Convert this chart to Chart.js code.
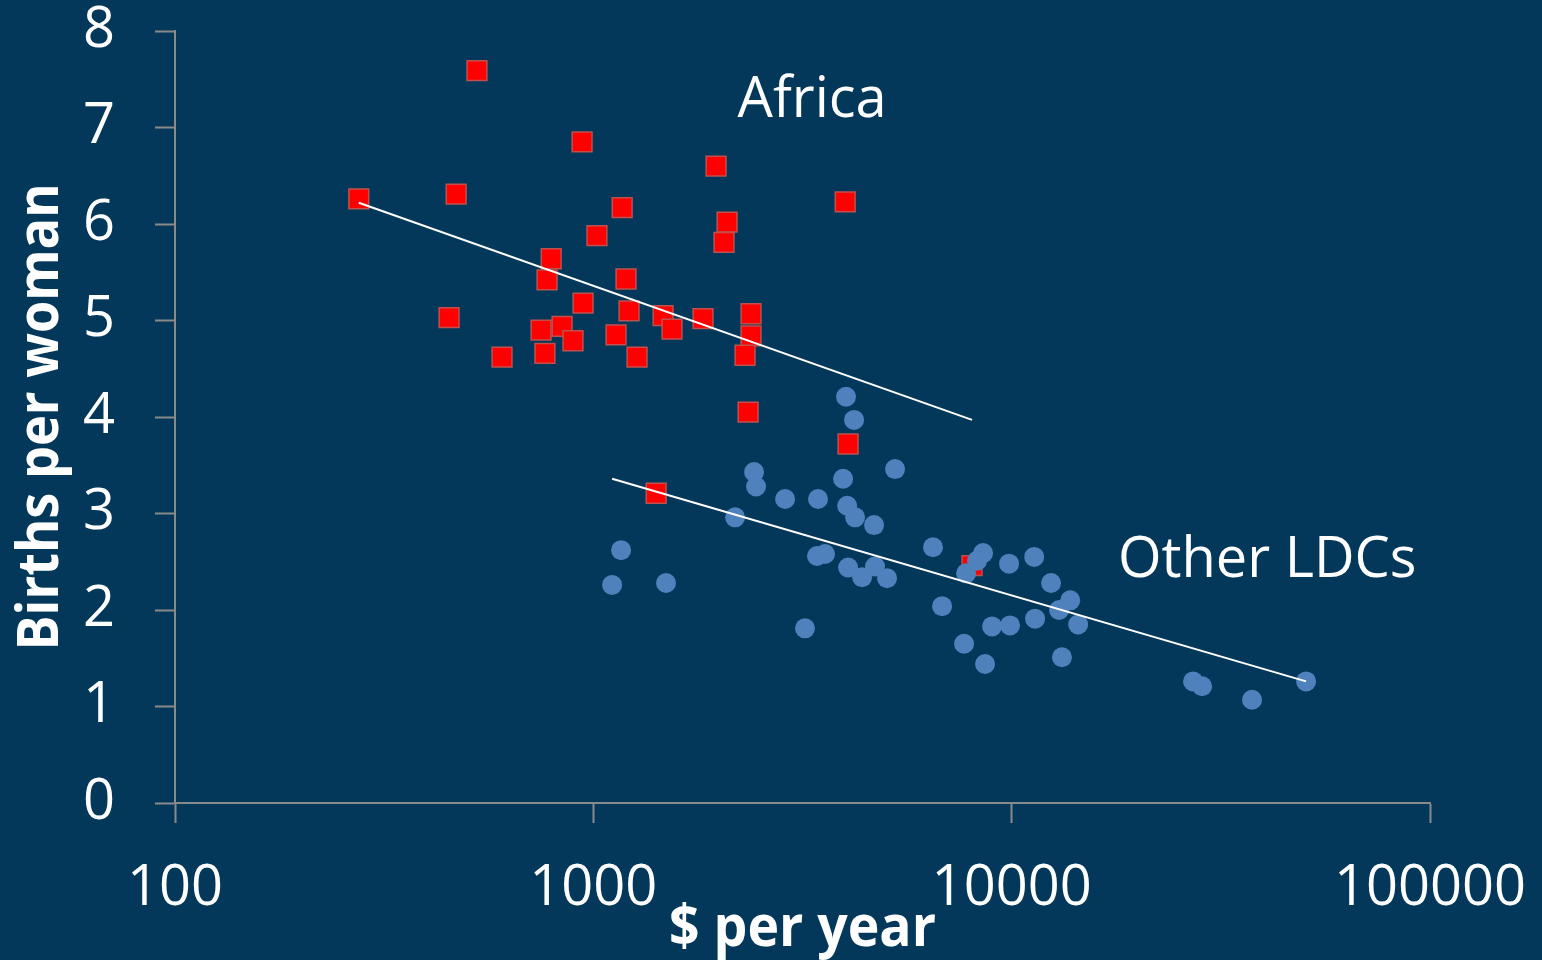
<!DOCTYPE html>
<html>
<head>
<meta charset="utf-8">
<script src="https://cdn.jsdelivr.net/npm/chart.js@4/dist/chart.umd.min.js"></script>
<style>
  html, body { margin: 0; padding: 0; background: #03385a; }
  #wrap { width: 1542px; height: 960px; position: relative; }
</style>
</head>
<body>
<div id="wrap"><canvas id="c"></canvas></div>
<script>
// ---- Data ----
const africaX = [275, 527, 470, 940, 1965, 2088, 2053, 4000, 1172, 1020, 793, 775, 1197, 945, 1217, 452, 750, 842, 894, 766, 605, 1133, 1272, 1468, 1542, 1829, 2382, 2382, 2305, 2344, 4064, 1413, 8040];
const africaY = [6.26, 7.59, 6.31, 6.85, 6.60, 6.02, 5.81, 6.23, 6.17, 5.88, 5.64, 5.42, 5.43, 5.18, 5.10, 5.03, 4.90, 4.94, 4.79, 4.66, 4.62, 4.85, 4.62, 5.05, 4.91, 5.02, 5.07, 4.84, 4.64, 4.05, 3.72, 3.21, 2.46];

const otherX = [4018, 4200, 2422, 2449, 3954, 5263, 2873, 3444, 4044, 4224, 4689, 2182, 1165, 1109, 1492, 3580, 3425, 4064, 4714, 4390, 5036, 3206, 6486, 8544, 8267, 7783, 9858, 11319, 12420, 13801, 12980, 14420, 6819, 8977, 9910, 11376, 7695, 8637, 13190, 27140, 28520, 37550, 50560];
const otherY = [4.21, 3.97, 3.43, 3.28, 3.36, 3.46, 3.15, 3.15, 3.08, 2.96, 2.88, 2.96, 2.62, 2.26, 2.28, 2.58, 2.56, 2.44, 2.45, 2.34, 2.33, 1.81, 2.65, 2.59, 2.51, 2.38, 2.48, 2.55, 2.28, 2.10, 2.00, 1.85, 2.04, 1.83, 1.84, 1.91, 1.65, 1.44, 1.51, 1.26, 1.21, 1.07, 1.26];

const trendAfricaX = [275, 8040];
const trendAfricaY = [6.22, 3.97];
const trendOtherX = [1109, 50560];
const trendOtherY = [3.36, 1.26];

const xTickValues = [100, 1000, 10000, 100000];
const yTickValues = [0, 1, 2, 3, 4, 5, 6, 7, 8];

const seriesLabels = ['Africa', 'Other LDCs'];
const xTitle = '$ per year';
const yTitle = 'Births per woman';

// ---- Build library structures ----
const pts = (xs, ys) => xs.map((x, i) => ({ x: x, y: ys[i] }));

const AXIS_COLOR = '#8a8a8a';
const TICK_FONT = { family: "'Open Sans', 'Noto Sans', sans-serif", size: 56, lineHeight: 1 };

// Series annotations placed in data coordinates
const textLabels = {
  id: 'textLabels',
  afterDatasetsDraw(chart, args, opts) {
    const { ctx, scales } = chart;
    ctx.save();
    ctx.fillStyle = '#ffffff';
    ctx.font = "56px 'Open Sans', 'Noto Sans', sans-serif";
    ctx.textAlign = 'center';
    ctx.textBaseline = 'middle';
    opts.items.forEach(it => {
      ctx.fillText(it.text, scales.x.getPixelForValue(it.x), scales.y.getPixelForValue(it.y));
    });
    ctx.restore();
  }
};

// Condensed bold axis titles (the original uses a narrow bold face)
const axisTitles = {
  id: 'axisTitles',
  afterDraw(chart, args, opts) {
    const { ctx, chartArea, scales } = chart;
    ctx.save();
    ctx.fillStyle = '#ffffff';
    ctx.font = "bold 57px 'Open Sans', 'Noto Sans', sans-serif";
    ctx.textAlign = 'center';
    ctx.textBaseline = 'alphabetic';
    // x title
    const cx = (chartArea.left + chartArea.right) / 2;
    ctx.fillText(opts.x.text, cx, scales.x.bottom - opts.x.gap, opts.x.maxWidth);
    // y title
    const cy = (chartArea.top + chartArea.bottom) / 2;
    ctx.translate(scales.y.left + opts.y.gap, cy);
    ctx.rotate(-Math.PI / 2);
    ctx.fillText(opts.y.text, 0, 0, opts.y.maxWidth);
    ctx.restore();
  }
};

new Chart(document.getElementById('c'), {
  type: 'scatter',
  data: {
    datasets: [
      {
        label: 'trend ' + seriesLabels[0],
        data: pts(trendAfricaX, trendAfricaY),
        showLine: true, borderColor: '#ffffff', borderWidth: 2,
        pointRadius: 0, fill: false, order: 0
      },
      {
        label: 'trend ' + seriesLabels[1],
        data: pts(trendOtherX, trendOtherY),
        showLine: true, borderColor: '#ffffff', borderWidth: 2,
        pointRadius: 0, fill: false, order: 0
      },
      {
        label: seriesLabels[1],
        data: pts(otherX, otherY),
        pointStyle: 'circle', pointRadius: 10,
        backgroundColor: '#4f81bd', borderColor: '#4f81bd', borderWidth: 0,
        order: 1
      },
      {
        label: seriesLabels[0],
        data: pts(africaX, africaY),
        pointStyle: 'rect', pointRadius: 14,
        backgroundColor: '#ff0000', borderColor: '#c0504d', borderWidth: 1.5,
        order: 2
      }
    ]
  },
  options: {
    responsive: true,
    maintainAspectRatio: false,
    animation: false,
    events: [],
    layout: { padding: { top: 31, right: 112, left: 0, bottom: 0 } },
    plugins: {
      legend: { display: false },
      tooltip: { enabled: false },
      textLabels: {
        items: [
          { text: seriesLabels[0], x: 3334, y: 7.27 },
          { text: seriesLabels[1], x: 40830, y: 2.51 }
        ]
      },
      axisTitles: {
        x: { text: xTitle, gap: 14, maxWidth: 267 },
        y: { text: yTitle, gap: 58, maxWidth: 467 }
      }
    },
    scales: {
      x: {
        type: 'logarithmic',
        min: 100, max: 100000,
        afterBuildTicks: s => { s.ticks = xTickValues.map(v => ({ value: v })); },
        afterFit: s => { s.height = 157; s.paddingLeft = 0; s.paddingRight = 0; },
        ticks: {
          color: '#ffffff', font: TICK_FONT, padding: 38, maxRotation: 0, autoSkip: false,
          callback: v => String(v)
        },
        grid: { drawOnChartArea: false, drawTicks: true, tickLength: 20, color: AXIS_COLOR, tickColor: AXIS_COLOR, tickWidth: 2 },
        border: { display: true, color: AXIS_COLOR, width: 2 },
        title: { display: false }
      },
      y: {
        type: 'linear',
        min: 0, max: 8,
        afterBuildTicks: s => { s.ticks = yTickValues.map(v => ({ value: v })); },
        afterFit: s => { s.width = 175; s.paddingTop = 0; s.paddingBottom = 0; },
        ticks: { color: '#ffffff', font: TICK_FONT, padding: 40 },
        grid: { drawOnChartArea: false, drawTicks: true, tickLength: 20, color: AXIS_COLOR, tickColor: AXIS_COLOR, tickWidth: 2 },
        border: { display: true, color: AXIS_COLOR, width: 2 },
        title: { display: false }
      }
    }
  },
  plugins: [textLabels, axisTitles]
});
</script>
</body>
</html>
